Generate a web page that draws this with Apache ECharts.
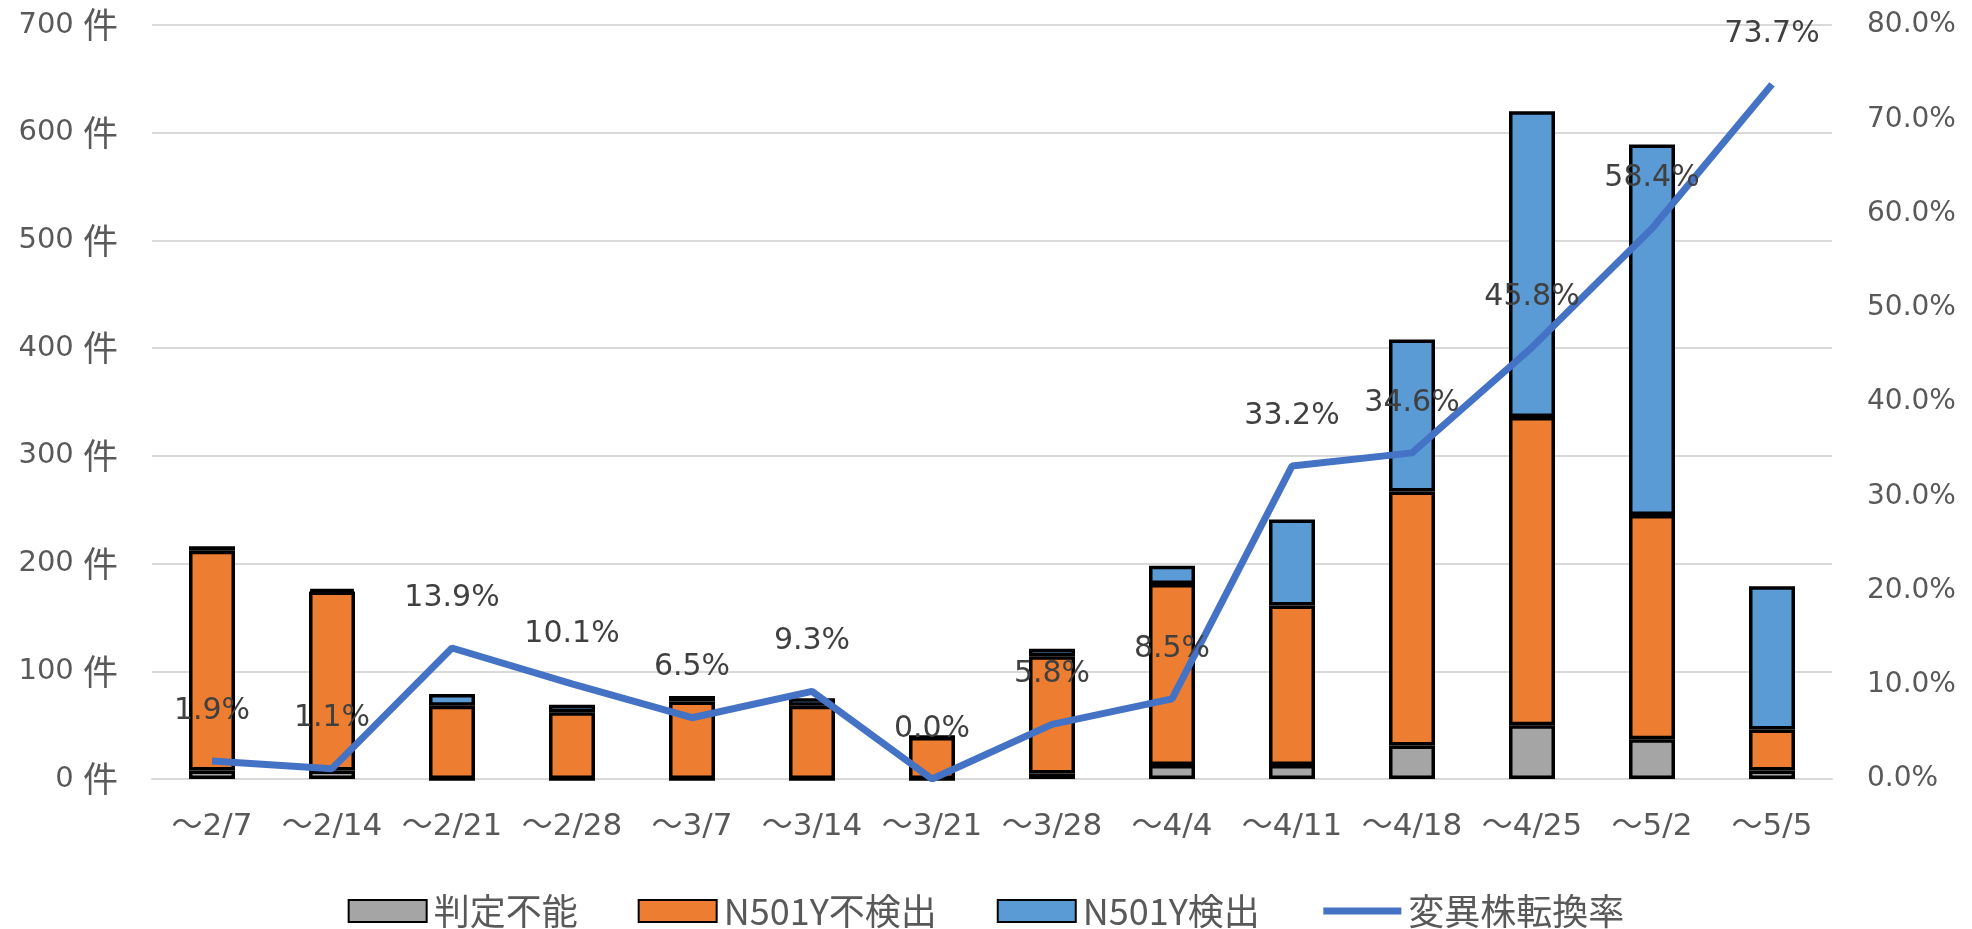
<!DOCTYPE html>
<html>
<head>
<meta charset="utf-8">
<script src="https://cdn.jsdelivr.net/npm/echarts@6/dist/echarts.min.js"></script>
<style>
html,body{margin:0;padding:0;background:#fff;}
#chart{width:1972px;height:929px;}
</style>
</head>
<body>
<div id="chart"></div>
<script>
const categories = ['～2/7','～2/14','～2/21','～2/28','～3/7','～3/14','～3/21','～3/28','～4/4','～4/11','～4/18','～4/25','～5/2','～5/5'];
const undetermined = [8, 8, 0, 0, 0, 0, 0, 5, 13, 13, 31, 50, 37, 8];
const notDetected = [204, 166, 68, 62, 72, 68, 39, 109, 168, 148, 236, 286, 208, 38];
const detected = [4, 2, 11, 7, 5, 7, 0, 7, 17, 80, 141, 284, 344, 133];
const variantRate = [1.9, 1.1, 13.9, 10.1, 6.5, 9.3, 0.0, 5.8, 8.5, 33.2, 34.6, 45.8, 58.4, 73.7];
const seriesNames = ['判定不能', 'N501Y不検出', 'N501Y検出', '変異株転換率'];

const chart = echarts.init(document.getElementById('chart'));
const LAT = 'DejaVu Sans, Noto Sans CJK JP, sans-serif';
const CJK = 'Noto Sans CJK JP, sans-serif';
const barStyle = (color) => ({color: color, borderColor: '#000', borderWidth: 3.5});

chart.setOption({
  animation: false,
  backgroundColor: '#fff',
  grid: {left: 152, right: 140, top: 25, bottom: 150, containLabel: false},
  legend: {
    data: [
      {name: seriesNames[0], icon: 'rect'},
      {name: seriesNames[1], icon: 'rect'},
      {name: seriesNames[2], icon: 'rect'},
      {name: seriesNames[3], itemStyle: {opacity: 0}, lineStyle: {width: 7, color: '#4472C4'}}
    ],
    top: 888,
    left: 'center',
    itemWidth: 78,
    itemHeight: 22,
    itemGap: 60,
    textStyle: {fontFamily: CJK, fontSize: 36, color: '#595959', padding: [0, 0, 0, 2]}
  },
  xAxis: {
    type: 'category',
    data: categories,
    axisLine: {show: true, lineStyle: {color: '#D9D9D9', width: 2}},
    axisTick: {show: false},
    axisLabel: {fontFamily: LAT, fontSize: 31, color: '#595959', margin: 32, interval: 0}
  },
  yAxis: [
    {
      type: 'value', min: 0, max: 700, interval: 100,
      axisLine: {show: false}, axisTick: {show: false},
      splitLine: {lineStyle: {color: '#D9D9D9', width: 2}},
      axisLabel: {
        margin: 34,
        formatter: v => '{n|' + v + ' }{k|件}',
        rich: {
          n: {fontFamily: 'DejaVu Sans', fontSize: 29, color: '#595959'},
          k: {fontFamily: CJK, fontSize: 35, color: '#595959'}
        }
      }
    },
    {
      type: 'value', min: 0, max: 80, interval: 10,
      axisLine: {show: false}, axisTick: {show: false},
      splitLine: {show: false},
      axisLabel: {margin: 35, fontFamily: 'DejaVu Sans', fontSize: 28, color: '#595959',
        formatter: v => v.toFixed(1) + '%'}
    }
  ],
  series: [
    {name: seriesNames[0], type: 'bar', stack: 'total', barWidth: 46, data: undetermined, itemStyle: barStyle('#A5A5A5')},
    {name: seriesNames[1], type: 'bar', stack: 'total', barWidth: 46, data: notDetected, itemStyle: barStyle('#ED7D31')},
    {name: seriesNames[2], type: 'bar', stack: 'total', barWidth: 46, data: detected, itemStyle: barStyle('#5B9BD5')},
    {
      name: seriesNames[3], type: 'line', yAxisIndex: 1, data: variantRate,
      symbol: 'circle', symbolSize: 0.1, showSymbol: true, z: 5,
      lineStyle: {color: '#4472C4', width: 7},
      itemStyle: {color: '#4472C4'},
      label: {
        show: true, position: 'top', distance: 35,
        fontFamily: 'DejaVu Sans', fontSize: 30, color: '#404040',
        formatter: p => p.value.toFixed(1) + '%'
      }
    }
  ]
});
</script>
</body>
</html>
